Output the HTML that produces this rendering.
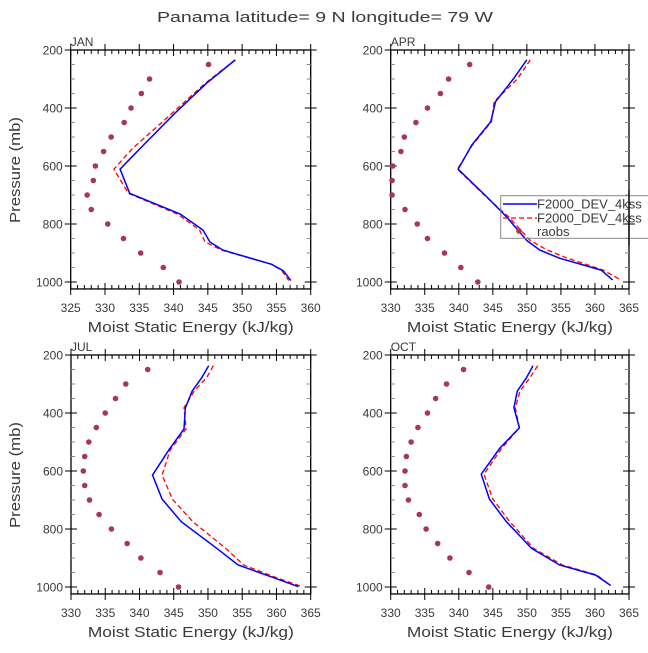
<!DOCTYPE html>
<html><head><meta charset="utf-8"><style>
body{margin:0;background:#fff}
svg text{font-family:"Liberation Sans",sans-serif;fill:#3a3a3a}
</style></head><body>
<svg id="c" width="648" height="648" xmlns="http://www.w3.org/2000/svg"></svg>
<script>
const months = ["JAN","APR","JUL","OCT"];
const xMins = [325,330,330,330];
const xMaxs = [360,365,365,365];
const obsLevels = [250,300,350,400,450,500,550,600,650,700,750,800,850,900,950,1000];
const modelLevelsJan = [234,315,418,540,611,694,766,821,862,890,939,961,995];
const modelLevelsApr = [234,300,378,447,528,611,706,775,857,890,918,959,993];
const modelLevelsJul = [237,278,324,382,455,527,614,697,775,867,924,968,999];
const modelLevelsOct = [237,280,324,382,451,522,611,697,775,867,924,959,995];
const blueJan = [349.0,344.8,340.2,335.1,332.2,333.6,341.0,344.3,345.3,347.2,354.3,356.0,357.1];
const redJan  = [349.0,344.6,339.8,334.0,331.3,333.4,340.6,343.8,344.6,347.0,354.3,355.8,356.8];
const obsJan  = [345.1,336.5,335.3,333.8,332.8,330.9,329.8,328.6,328.3,327.4,328.0,330.4,332.7,335.2,338.5,340.8];
const blueApr = [350.0,348.0,345.4,344.7,341.9,339.9,344.1,347.0,350.0,351.9,354.8,360.9,362.6];
const redApr  = [350.5,348.6,345.2,344.8,342.0,339.8,344.0,347.3,350.5,353.0,356.0,361.2,363.8];
const obsApr  = [341.6,338.5,337.3,335.4,333.7,332.0,331.5,330.3,330.2,330.2,332.1,333.9,335.4,337.9,340.3,342.8];
const blueJul = [350.1,349.1,347.7,346.7,346.5,344.3,341.9,343.3,346.1,351.3,354.4,359.6,363.2];
const redJul  = [350.8,349.8,348.0,346.5,346.8,344.5,343.3,344.8,347.8,352.6,355.2,360.0,363.8];
const obsJul  = [341.2,338.0,336.5,335.0,333.7,332.6,332.0,331.8,332.0,332.7,334.1,335.9,338.2,340.2,343.0,345.7];
const blueOct = [350.9,349.9,348.6,348.1,348.9,346.0,343.3,344.5,347.0,350.7,354.8,360.1,362.3];
const redOct  = [351.6,350.4,349.0,348.3,348.9,346.3,343.7,345.0,347.5,351.0,355.2,360.3,362.3];
const obsOct  = [340.7,338.2,336.6,335.4,334.0,333.0,332.3,332.1,332.1,332.6,334.2,335.2,336.9,338.7,341.5,344.4];
const yTicks = [200,400,600,800,1000];

const levelsAll=[modelLevelsJan,modelLevelsApr,modelLevelsJul,modelLevelsOct];
const blueAll=[blueJan,blueApr,blueJul,blueOct];
const redAll=[redJan,redApr,redJul,redOct];
const obsAll=[obsJan,obsApr,obsJul,obsOct];
const boxes=[[70.7,310.7,50],[390.7,629,50],[71,310.7,355],[390.7,629,355]];
const svg=document.getElementById('c');
const NS='http://www.w3.org/2000/svg';
function mk(t,a,p){const e=document.createElementNS(NS,t);for(const k in a)e.setAttribute(k,a[k]);(p||svg).appendChild(e);return e;}

const title=mk('text',{x:325,y:22,'text-anchor':'middle','font-size':15,fill:'#444',textLength:336,lengthAdjust:'spacingAndGlyphs'});
title.textContent='Panama  latitude= 9 N longitude= 79 W';



months.forEach((m,i)=>{
  const [L,R,T]=boxes[i];
  const pxPer=232/800;
  const yS=p=>T+(p-200)*pxPer;
  const B=yS(1024);
  const xS=v=>L+(v-xMins[i])/(xMaxs[i]-xMins[i])*(R-L);
  const g=mk('g',{});
  
  
  mk('rect',{x:L,y:T,width:R-L,height:B-T,fill:'none',stroke:'#000','stroke-width':1.3},g);
  for(let v=xMins[i];v<=xMaxs[i];v++){
    const x=xS(v);const maj=(v%5===0);
    const l=maj?6:4;
    mk('line',{x1:x,x2:x,y1:B-l,y2:B+(maj?6:0),stroke:'#000','stroke-width':1},g);
    mk('line',{x1:x,x2:x,y1:T+l,y2:T-(maj?6:0),stroke:'#000','stroke-width':1},g);
    if(maj){const t=mk('text',{x:x,y:B+23,'text-anchor':'middle','font-size':12},g);t.textContent=v;
      
      }
  }
  for(let p=200;p<=1000;p+=50){
    const y=yS(p);const maj=(p%200===0);const l=maj?6:4;
    mk('line',{x1:L-(maj?6:0),x2:L+l,y1:y,y2:y,stroke:maj?'#000':'#888','stroke-width':1},g);
    mk('line',{x1:R+(maj?6:0),x2:R-l,y1:y,y2:y,stroke:maj?'#000':'#888','stroke-width':1},g);
  }
  yTicks.forEach(p=>{const t=mk('text',{x:L-8,y:yS(p)+4.5,'text-anchor':'end','font-size':12},g);t.textContent=p;
    
    });
  const mt=mk('text',{x:L,y:T-4,'font-size':12},g);mt.textContent=m;
  
  
  const xt=mk('text',{x:(L+R)/2,y:B+43,'text-anchor':'middle','font-size':15,fill:'#444',textLength:206,lengthAdjust:'spacingAndGlyphs'},g);
  xt.textContent='Moist Static Energy (kJ/kg)';
  
  
  if(i%2===0){
    const cy=T+120;
    const yt=mk('text',{x:0,y:0,'text-anchor':'middle','font-size':15,fill:'#444',textLength:106,lengthAdjust:'spacingAndGlyphs',transform:`translate(20,${cy}) rotate(-90)`},g);
    yt.textContent='Pressure (mb)';
    
    
  }
  obsAll[i].forEach((v,k)=>{const c=mk('circle',{cx:xS(v),cy:yS(obsLevels[k]),r:2.8,fill:'#a8365a'},g);
    
    });
  const pr=levelsAll[i].map((p,k)=>xS(redAll[i][k])+','+yS(p)).join(' ');
  const red=mk('polyline',{points:pr,fill:'none',stroke:'#f00','stroke-width':1.3,'stroke-dasharray':'5,3'},g);
  
  
  const pb=levelsAll[i].map((p,k)=>xS(blueAll[i][k])+','+yS(p)).join(' ');
  const blue=mk('polyline',{points:pb,fill:'none',stroke:'#00f','stroke-width':1.5},g);
  
  
});

const lg=mk('g',{});


mk('rect',{x:500.7,y:195.7,width:160,height:42.6,fill:'none',stroke:'#888','stroke-width':1},lg);
mk('line',{x1:503,x2:537,y1:204,y2:204,stroke:'#00f','stroke-width':1.5},lg);
mk('line',{x1:503,x2:537,y1:218,y2:218,stroke:'#f00','stroke-width':1.3,'stroke-dasharray':'5,3'},lg);
mk('circle',{cx:519,cy:231,r:2.8,fill:'#a8365a'},lg);
[['F2000_DEV_4kss',208.5],['F2000_DEV_4kss',222.5],['raobs',236]].forEach(([s,y])=>{
  const t=mk('text',{x:537,y:y,'font-size':13},lg);t.textContent=s;
  
  
});
mk('line',{x1:629,x2:629,y1:190,y2:245,stroke:'#000','stroke-width':1.3},lg);
</script>
</body></html>
